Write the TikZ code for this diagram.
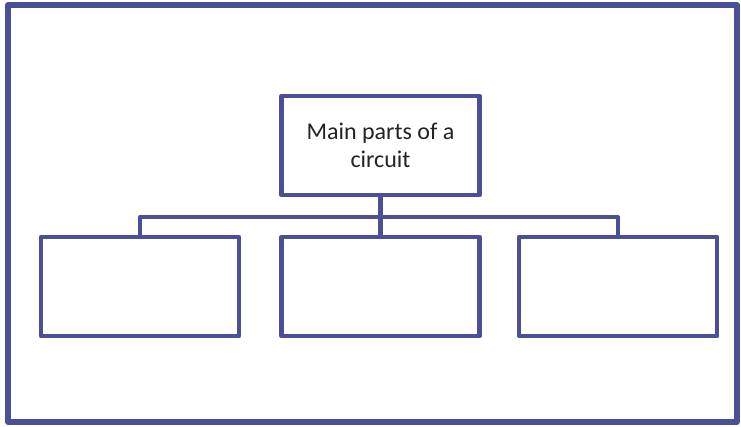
\documentclass[tikz,border=0pt]{standalone}
\usepackage{fontspec}
\setmainfont{Carlito}
\definecolor{frameblue}{RGB}{74,80,152}
\definecolor{txt}{RGB}{35,35,40}
\begin{document}
\begin{tikzpicture}[x=0.75pt,y=-0.75pt,
  box/.style={draw=frameblue, line width=3.4pt, line join=round, fill=white,
    minimum width=148.5pt, minimum height=74.25pt, outer sep=0pt, inner sep=0pt,
    text=txt, align=center, font=\fontsize{18}{21}\selectfont},
  conn/.style={draw=frameblue, line width=3.1pt, line join=round}]
\useasboundingbox (0,0) rectangle (741,426);
\draw[frameblue, line width=3.8pt, line join=round] (8,5) rectangle (737,422);
\coordinate (bar) at (380,217);
\node[box] (top) at (380.5,145.5) {Main parts of a\\circuit};
\node[box] (b1) at (140,286.5) {};
\node[box] (b2) at (380.5,286.5) {};
\node[box] (b3) at (618,286.5) {};
\draw[conn] (b1.north) |- (bar) -| (b3.north);
\draw[conn] (top.south) -- (b2.north);
\end{tikzpicture}
\end{document}
